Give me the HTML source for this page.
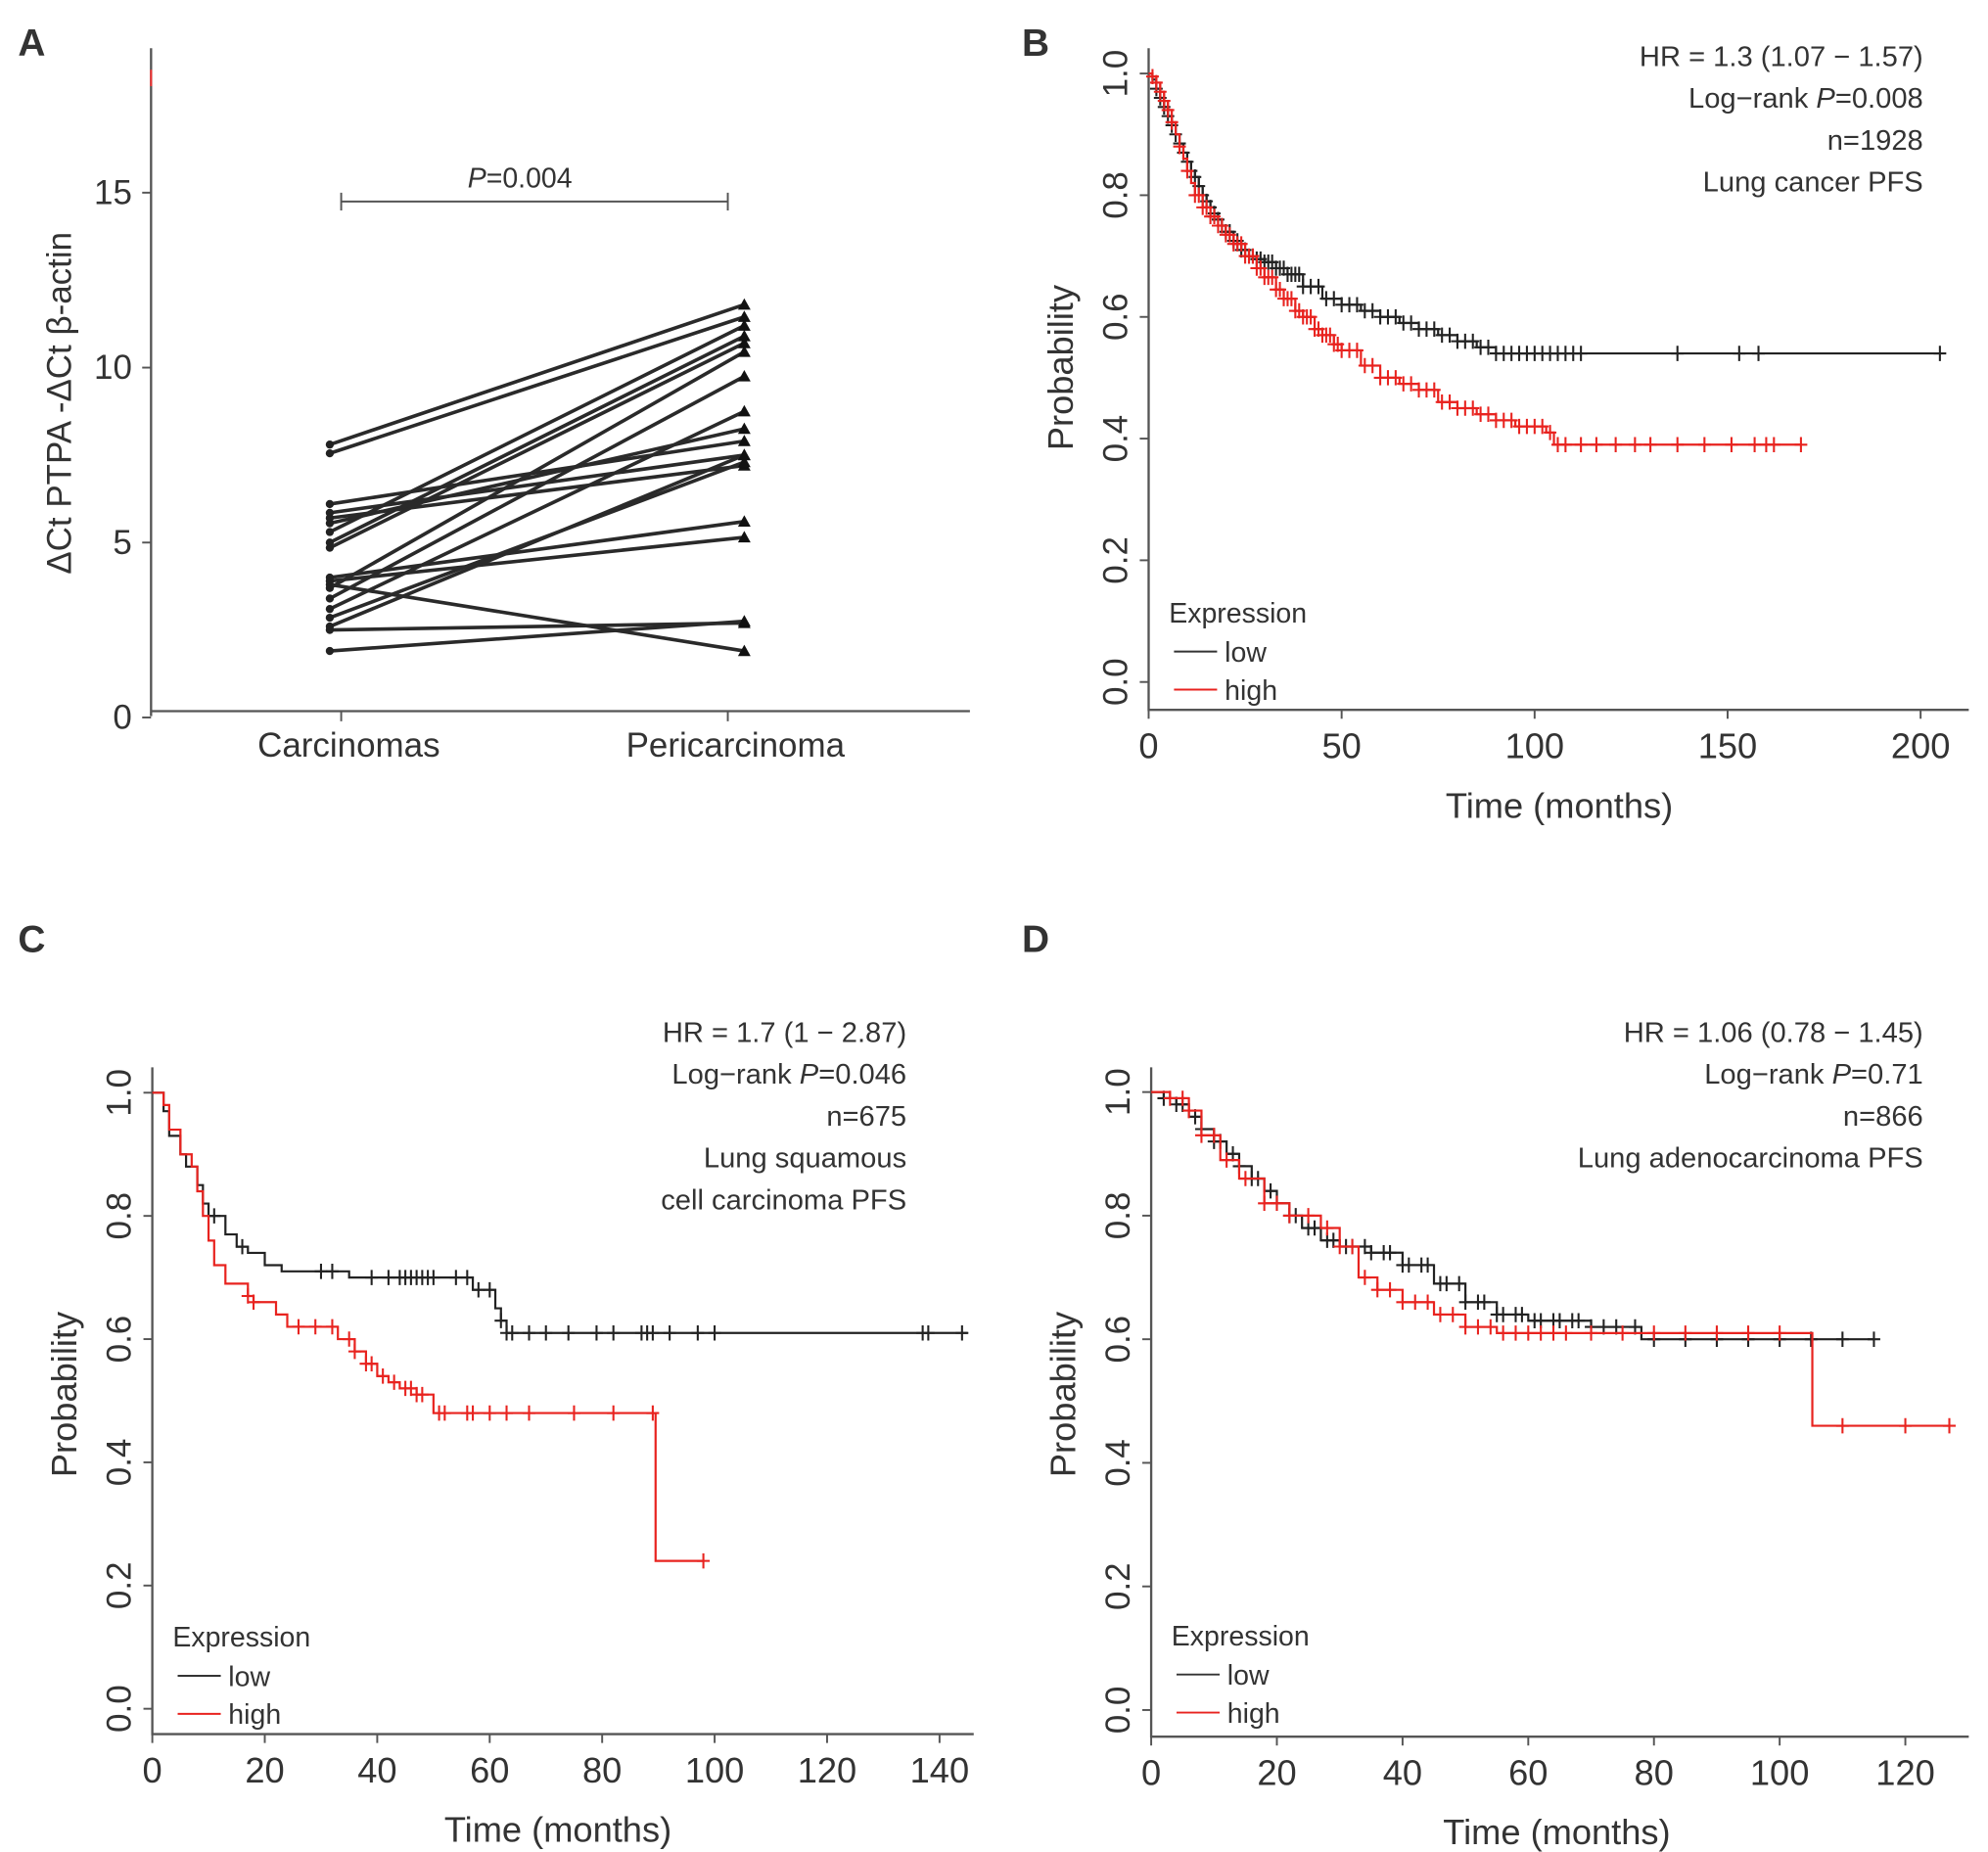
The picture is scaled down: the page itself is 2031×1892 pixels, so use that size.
<!DOCTYPE html>
<html><head><meta charset="utf-8"><style>
html,body{margin:0;padding:0;background:#fff}
svg{display:block}
text{font-family:"Liberation Sans",sans-serif;fill:#333}
</style></head><body>
<svg id="fig" width="2031" height="1892" viewBox="0 0 1568 1461" xmlns="http://www.w3.org/2000/svg">
<g id="gA"></g>
<g id="gB"></g>
<g id="gC"></g>
<g id="gD"></g>
</svg>
<script>
// Panel A data
const aCategories = ["Carcinomas","Pericarcinoma"];
const aCarc = [7.8,7.55,6.1,5.85,5.7,5.55,5.3,5.0,4.85,4.0,3.9,3.8,3.7,3.4,3.1,2.85,2.6,2.5,1.9];
const aPeri = [11.8,11.45,7.9,7.5,7.2,8.25,11.2,10.9,10.7,5.6,5.15,1.9,10.45,9.75,8.75,7.3,7.5,2.7,2.75];
const aTicks = [0,5,10,15];
// Panel B data
const bTicksX = [0,50,100,150,200];
const bLowT = [0,1,2,3,4,5,6,7,8,9,10,11,12,13,14,15,16,17,18,19,20,22,24,26,28,30,33,36,40,45,50,55,60,65,70,75,80,85,90,205];
const bLowS = [1,0.99,0.975,0.96,0.945,0.93,0.915,0.9,0.885,0.87,0.855,0.84,0.83,0.815,0.8,0.79,0.78,0.77,0.76,0.75,0.74,0.725,0.71,0.7,0.695,0.69,0.68,0.67,0.65,0.63,0.62,0.61,0.6,0.59,0.58,0.57,0.56,0.55,0.54,0.54];
const bHighT = [0,1,2,3,4,5,6,7,8,9,10,11,12,14,16,18,20,22,25,28,30,33,35,38,40,43,45,48,50,55,60,65,70,75,80,85,90,95,103,105,169];
const bHighS = [1,0.995,0.985,0.97,0.955,0.94,0.92,0.9,0.88,0.86,0.84,0.82,0.8,0.78,0.765,0.75,0.735,0.72,0.7,0.68,0.665,0.645,0.63,0.61,0.6,0.58,0.57,0.555,0.545,0.52,0.5,0.49,0.48,0.46,0.45,0.44,0.43,0.42,0.41,0.39,0.39];
const bLowCens = [2,3,4,5,6,7,8,9,10,11,12,13,14,15,16,17,18,19,20,21,22,23,24,25,26,27,28,29,30,31,32,33,34,35,36,37,38,39,40,42,44,46,48,50,52,54,56,58,60,62,64,66,68,70,72,74,76,78,80,82,84,86,88,90,92,94,96,98,100,102,104,106,108,110,112,137,153,158,205];
const bHighCens = [1,2,3,4,5,6,8,10,12,13,14,15,16,17,18,19,20,21,22,23,24,25,26,27,28,29,30,31,32,33,34,35,36,37,38,39,40,41,42,43,44,45,46,47,48,49,50,52,54,56,58,60,62,64,66,68,70,72,74,76,78,80,82,84,86,88,90,92,94,96,98,100,102,104,106,108,112,116,121,126,130,137,144,151,157,160,162,169];
// Panel C data
const cTicksX = [0,20,40,60,80,100,120,140];
const cLowT = [0,2,3,5,6,8,9,10,13,15,17,20,23,35,55,57,61,62,63,145];
const cLowS = [1,0.97,0.93,0.9,0.88,0.85,0.82,0.8,0.77,0.75,0.74,0.72,0.71,0.7,0.7,0.68,0.65,0.63,0.61,0.61];
const cHighT = [0,2,3,5,7,8,9,10,11,13,17,18,22,24,30,33,36,38,40,42,44,47,50,89,89.5,98];
const cHighS = [1,0.98,0.94,0.9,0.88,0.84,0.8,0.76,0.72,0.69,0.67,0.66,0.64,0.62,0.62,0.6,0.58,0.56,0.54,0.53,0.52,0.51,0.48,0.48,0.24,0.24];
const cLowCens = [11,16,30,32,39,42,44,45,46,47,48,49,50,54,56,58,60,62,63,64,67,70,74,79,82,87,88,89,92,97,100,137,138,144];
const cHighCens = [17,18,26,29,32,35,36,38,39,41,43,45,46,47,48,51,52,56,57,60,63,67,75,82,89,98];
// Panel D data
const dTicksX = [0,20,40,60,80,100,120];
const dLowT = [0,2,4,6,8,10,12,14,16,18,20,22,24,27,30,35,40,45,50,55,60,70,78,115];
const dLowS = [1,0.99,0.98,0.96,0.94,0.92,0.9,0.88,0.86,0.84,0.82,0.8,0.78,0.76,0.75,0.74,0.72,0.69,0.66,0.64,0.63,0.62,0.6,0.6];
const dHighT = [0,3,6,8,11,14,18,22,27,30,33,36,40,45,50,55,60,105,105.2,127];
const dHighS = [1,0.99,0.97,0.93,0.89,0.86,0.82,0.8,0.78,0.75,0.7,0.68,0.66,0.64,0.62,0.61,0.61,0.61,0.46,0.46];
const dLowCens = [2,4,5,7,8,10,11,13,14,16,17,19,20,22,23,25,26,28,29,31,32,34,35,37,38,40,41,43,44,46,47,49,50,52,53,55,56,58,59,61,62,64,65,67,68,70,72,74,77,80,85,90,95,100,105,110,115];
const dHighCens = [3,5,6,8,10,12,15,18,20,22,25,28,30,32,34,36,38,40,42,44,46,48,50,52,54,56,58,60,62,64,66,70,75,80,85,90,95,100,110,120,127];

const NS="http://www.w3.org/2000/svg";
function mk(parent,tag,attrs,txt){const e=document.createElementNS(NS,tag);for(const k in attrs)e.setAttribute(k,attrs[k]);if(txt!==undefined)e.textContent=txt;parent.appendChild(e);return e;}

// ---------- Panel A ----------
(function(){
  const g=document.getElementById('gA');
  const y=v=>566-v*27.6;
  const xc=[260,587];
  const lab=mk(g,'text',{x:14,y:44,'font-size':30,'font-weight':'bold',fill:'#222'},'A');
  
  
  const ax=mk(g,'path',{d:'M119,38 V565 M119,561 H765',stroke:'#555','stroke-width':1.8,fill:'none'});
  
  
  mk(g,'line',{x1:119,y1:55,x2:119,y2:68,stroke:'#e33','stroke-width':1.6});
  aTicks.forEach(v=>{
    mk(g,'line',{x1:112,y1:y(v),x2:119,y2:y(v),stroke:'#555','stroke-width':1.5});
    const t=mk(g,'text',{x:104,y:y(v)+9,'font-size':27,'text-anchor':'end'},String(v));
    
    
  });
  [269,574].forEach((x,i)=>{
    mk(g,'line',{x1:x,y1:561,x2:x,y2:569,stroke:'#555','stroke-width':1.5});
    const t=mk(g,'text',{x:x+6,y:597,'font-size':27,'text-anchor':'middle'},aCategories[i]);
    
    
  });
  const yt=mk(g,'text',{transform:'translate(56,318) rotate(-90)','font-size':27,'text-anchor':'middle'},'ΔCt PTPA -ΔCt β-actin');
  
  
  const br=mk(g,'path',{d:'M269,152 V166 M269,159 H574 M574,152 V166',stroke:'#555','stroke-width':1.5,fill:'none'});
  
  
  const pt=mk(g,'text',{x:410,y:148,'font-size':22,'text-anchor':'middle'});
  mk(pt,'tspan',{'font-style':'italic'},'P');mk(pt,'tspan',{},'=0.004');
  
  
  for(let i=0;i<aCarc.length;i++){
    const l=mk(g,'line',{x1:xc[0],y1:y(aCarc[i]),x2:xc[1],y2:y(aPeri[i]),stroke:'#2a2a2a','stroke-width':2.8});
    
    
    const c=mk(g,'circle',{cx:xc[0],cy:y(aCarc[i]),r:3.2,fill:'#222'});
    
    
    const py=y(aPeri[i]);
    const tr=mk(g,'path',{d:`M${xc[1]},${py-5} L${xc[1]+5},${py+4} L${xc[1]-5},${py+4} Z`,fill:'#111'});
    
    
  }
})();

// ---------- KM panels ----------
function km(o){
  const g=document.getElementById(o.id);
  const X=t=>o.x0+t*o.kx, Y=p=>o.y0-p*o.ky;
  const lab=mk(g,'text',{x:o.lx,y:o.ly,'font-size':30,'font-weight':'bold',fill:'#222'},o.letter);
  
  
  const ax=mk(g,'path',{d:`M${o.x0},${o.top} V${o.axY} H${o.right}`,stroke:'#555','stroke-width':1.8,fill:'none'});
  
  
  [0,0.2,0.4,0.6,0.8,1.0].forEach(p=>{
    mk(g,'line',{x1:o.x0-7,y1:Y(p),x2:o.x0,y2:Y(p),stroke:'#555','stroke-width':1.5});
    const t=mk(g,'text',{transform:`translate(${o.x0-17},${Y(p)}) rotate(-90)`,'font-size':27,'text-anchor':'middle'},p.toFixed(1));
    
    
  });
  o.ticks.forEach(v=>{
    mk(g,'line',{x1:X(v),y1:o.axY,x2:X(v),y2:o.axY+7,stroke:'#555','stroke-width':1.5});
    const t=mk(g,'text',{x:X(v),y:o.axY+38,'font-size':28,'text-anchor':'middle'},String(v));
    
    
  });
  const xt=mk(g,'text',{x:o.xtx,y:o.axY+85,'font-size':28,'text-anchor':'middle'},'Time (months)');
  
  
  const yt=mk(g,'text',{transform:`translate(${o.x0-60},${o.ytc}) rotate(-90)`,'font-size':28,'text-anchor':'middle'},'Probability');
  
  
  o.ann.forEach((s,i)=>{
    const t=mk(g,'text',{x:o.annX,y:o.annY+i*33,'font-size':22.5,'text-anchor':'end'});
    if(s.indexOf('P=')>=0){const parts=s.split('P=');mk(t,'tspan',{},parts[0]);mk(t,'tspan',{'font-style':'italic'},'P');mk(t,'tspan',{},'='+parts[1]);}
    else t.textContent=s;
    
    
  });
  const lg=mk(g,'g',{});
  
  
  mk(lg,'text',{x:o.x0+16,y:o.legY,'font-size':22},'Expression');
  [['low','#333'],['high','#e8231f']].forEach((d,i)=>{
    const yy=o.legY+31+i*30;
    mk(lg,'line',{x1:o.x0+20,y1:yy-8,x2:o.x0+54,y2:yy-8,stroke:d[1],'stroke-width':1.5});
    const t=mk(lg,'text',{x:o.x0+60,y:yy,'font-size':22},d[0]);
    
    
  });
  function surv(T,S,t){let s=S[0];for(let i=0;i<T.length;i++){if(T[i]<=t)s=S[i];}return s;}
  function curve(T,S,C,col,name){
    let d=`M${X(T[0])},${Y(S[0])}`;
    for(let i=1;i<T.length;i++){d+=` H${X(T[i])} V${Y(S[i])}`;}
    const p=mk(g,'path',{d:d,stroke:col,'stroke-width':1.7,fill:'none'});
    
    
    C.forEach(t=>{
      const cx=X(t),cy=Y(surv(T,S,t));
      const m=mk(g,'path',{d:`M${cx-5},${cy} H${cx+5} M${cx},${cy-6} V${cy+6}`,stroke:col,'stroke-width':1.6});
      
      
    });
  }
  curve(o.lowT,o.lowS,o.lowC,'#222','low');
  curve(o.highT,o.highS,o.highC,'#e8231f','high');
}
km({id:'gB',letter:'B',lx:806,ly:44,x0:906,top:38,axY:560,right:1553,kx:3.045,y0:538,ky:480,ticks:bTicksX,xtx:1230,ytc:290,
  ann:['HR = 1.3 (1.07 − 1.57)','Log−rank P=0.008','n=1928','Lung cancer PFS'],annX:1517,annY:52,legY:491,
  lowT:bLowT,lowS:bLowS,lowC:bLowCens,highT:bHighT,highS:bHighS,highC:bHighCens});
km({id:'gC',letter:'C',lx:14,ly:751,x0:120,top:842,axY:1368,right:768,kx:4.436,y0:1348,ky:486,ticks:cTicksX,xtx:440,ytc:1100,
  ann:['HR = 1.7 (1 − 2.87)','Log−rank P=0.046','n=675','Lung squamous','cell carcinoma PFS'],annX:715,annY:822,legY:1299,
  lowT:cLowT,lowS:cLowS,lowC:cLowCens,highT:cHighT,highS:cHighS,highC:cHighCens});
km({id:'gD',letter:'D',lx:806,ly:751,x0:908,top:842,axY:1370,right:1553,kx:4.958,y0:1349,ky:487.5,ticks:dTicksX,xtx:1228,ytc:1100,
  ann:['HR = 1.06 (0.78 − 1.45)','Log−rank P=0.71','n=866','Lung adenocarcinoma PFS'],annX:1517,annY:822,legY:1298,
  lowT:dLowT,lowS:dLowS,lowC:dLowCens,highT:dHighT,highS:dHighS,highC:dHighCens});
</script>
</body></html>
